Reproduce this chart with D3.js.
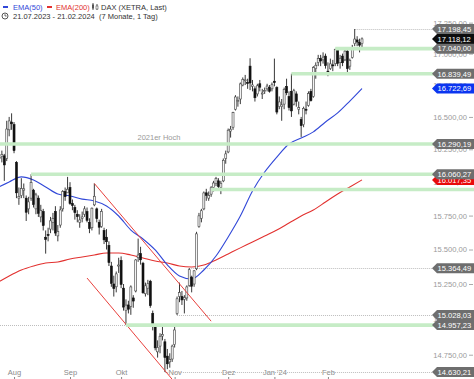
<!DOCTYPE html>
<html>
<head>
<meta charset="utf-8">
<script src="https://cdn.jsdelivr.net/npm/d3@7"></script>
<style>
  body { margin: 0; background: #fff; }
  svg { display: block; font-family: "Liberation Sans", Arial, sans-serif; }
</style>
</head>
<body>
<div id="chart"></div>
<script>
// daily candles, 21.07.2023 - 21.02.2024 (index = trading day)
var open = [16150,16180,16195,16200,16180,16400,16460,16440,16150,15880,
  15900,15940,15880,15800,15880,15940,15800,15880,15740,15780,
  15590,15610,15650,15700,15780,15600,15680,15800,15930,15920,
  15960,15840,15810,15760,15700,15730,15760,15780,15700,15660,
  15830,15800,15700,15670,15640,15590,15530,15380,15250,15230,
  15380,15420,15220,15060,15100,15090,15150,15200,15440,15470,
  15400,15180,15220,15270,15040,14950,14770,14810,14880,14840,
  14740,14700,14720,14820,15040,15160,15160,15140,15150,15240,
  15300,15250,15360,15670,15730,15800,15920,15880,15910,15960,
  15990,16010,15960,16010,16180,16230,16390,16420,16560,16620,
  16640,16750,16790,16770,16900,16740,16720,16680,16760,16680,
  16700,16720,16730,16720,16780,16730,16580,16580,16600,16740,
  16660,16700,16600,16680,16560,16480,16440,16560,16590,16700,
  16660,16880,16930,16960,16950,16980,16860,16880,16910,16920,
  17030,16930,16980,16950,17020,16900,16970,17080,17110,17090,17080];
var high = [16220,16230,16240,16215,16470,16500,16528,16460,16160,15960,
  16030,15990,15900,15890,16060,15950,15920,15900,15830,15800,
  15640,15660,15740,15770,15820,15680,15820,15940,15960,16040,
  16000,15870,15830,15790,15760,15780,15820,15810,15730,15810,
  15990,15810,15720,15800,15660,15650,15560,15410,15310,15340,
  15440,15450,15250,15140,15130,15240,15170,15430,15580,15520,
  15410,15260,15280,15280,15060,14960,14850,14900,14950,14860,
  14790,14760,14820,14960,15160,15260,15200,15170,15240,15364.49,
  15310,15350,15630,15770,15800,15930,15950,15930,15970,16010,
  16040,16030,16010,16180,16240,16410,16430,16540,16670,16660,
  16770,16810,16830,16800,16963,16790,16740,16760,16790,16720,
  16730,16760,16750,16770,16960,16740,16660,16640,16730,16800,
  16700,16839.49,16720,16700,16620,16500,16580,16620,16700,16720,
  16900,16930,16990,16990,17010,17000,16930,16960,16950,17040,
  17035,16990,17000,17030,17030,16960,17070,17198.45,17140,17120,17130];
var low = [16120,16140,16150,16010,16160,16350,16400,16220,15880,15830,
  15880,15880,15710,15760,15860,15810,15760,15740,15700,15640,
  15470,15560,15620,15640,15600,15560,15660,15780,15860,15920,
  15830,15790,15720,15700,15660,15700,15740,15700,15620,15640,
  15820,15700,15610,15660,15540,15500,15380,15230,15160,15190,
  15330,15220,15060,14957.23,15040,15030,15080,15190,15410,15390,
  15180,15160,15170,15080,14920,14780,14730,14760,14850,14630.21,
  14650,14660,14700,14800,15028.03,15120,15100,15040,15130,15230,
  15190,15230,15350,15660,15700,15790,15860,15860,15890,15930,
  15970,15940,15910,16000,16140,16220,16340,16400,16550,16580,
  16600,16740,16750,16720,16710,16700,16620,16660,16700,16640,
  16680,16700,16690,16700,16740,16520,16560,16470,16560,16670,
  16550,16500,16590,16580,16520,16345,16420,16520,16580,16620,
  16650,16800,16900,16900,16920,16880,16820,16870,16860,16900,
  16900,16880,16900,16940,16840,16870,16960,17060,17060,17010,17040];
var close = [16177,16190,16211,16131,16406,16469,16447,16240,15920,15893,
  15952,15950,15775,15852,15997,15832,15904,15767,15789,15676,
  15574,15603,15711,15729,15621,15632,15792,15930,15891,15947,
  15840,15825,15772,15742,15718,15740,15800,15715,15654,15805,
  15894,15727,15664,15781,15571,15557,15405,15255,15217,15323,
  15387,15247,15085,15099,15070,15229,15128,15424,15460,15425,
  15187,15237,15252,15095,14946,14798,14800,14879,14892,14731,
  14687,14716,14810,14923,15144,15189,15136,15153,15229,15353,
  15234,15345,15615,15748,15786,15919,15901,15900,15958,15994,
  16029,15967,15992,16166,16215,16397,16405,16533,16656,16629,
  16759,16794,16791,16766,16766,16751,16650,16744,16733,16687,
  16706,16742,16701,16752,16769,16538,16617,16594,16716,16689,
  16573,16547,16705,16622,16572,16432,16567,16555,16683,16627,
  16889,16907,16961,16941,16972,16904,16859,16918,16904,17033,
  16922,16963,16927,17020,16880,16946,17047,17117,17093,17068,17118.12];

// moving averages read every 5 trading days
var emaIdx = [0,5,10,15,20,25,30,35,40,45,50,55,60,65,70,75,80,85,90,95,100,105,110,115,120,125,130,135,140,145,150];
var ema50 = [15956,16002,16040,16017,15964,15911,15896,15873,15859,15822,15747,15643,15577,15497,15388,15308,
  15286,15351,15453,15592,15747,15934,16077,16191,16291,16337,16384,16461,16531,16624,16722.69];
var ema200 = [15257,15308,15351,15380,15402,15409,15431,15446,15460,15475,15475,15460,15438,15416,15402,15380,
  15373,15387,15424,15468,15512,15555,15599,15643,15695,15747,15792,15851,15911,15964,16017.35];

// marked levels
var greenLevels = [17040.00, 16839.49, 16290.19, 16060.27, 15945, 14957.23];
var greenFrom = [139, 121, null, 14, 88, 53];
var dotLevels = [17198.45, 15364.49, 15028.03, 14630.21, 14957.23];
var dotFrom = [147, 79, 74, 69, null];
var tagLevels = [17198.45, 17118.12, 17040.00, 16839.49, 16722.69, 16290.19, 16060.27, 15364.49, 15028.03, 14957.23, 14630.21];
var tagKind = ["grey","last","grey","grey","ema50","grey","grey","grey","grey","grey","grey"];

// trend channel
var trendUpper = [{i: 40, p: 15990}, {i: 88, p: 14985}];
var trendLower = [{i: 37, p: 15293}, {i: 73, p: 14560}];

var yTicks = [14750,15000,15250,15500,15750,16000,16250,16500,16750,17000,17250];
var monthIdx = [7,30,51,73,95,114,136];
var monthLabels = ["Aug","Sep","Okt","Nov","Dez","Jan '24","Feb"];

var width = 474, height = 379, plotRight = 432;

var svg = d3.select("#chart").append("svg")
    .attr("width", width)
    .attr("height", height);

svg.append("clipPath").attr("id", "plot")
  .append("rect").attr("x", 0).attr("y", 0).attr("width", plotRight).attr("height", height);

var x = d3.scaleLinear().domain([0, 150]).range([-3, 362]);
var y = d3.scaleLog().domain([14630.21, 17198.45]).range([372, 29]);

var de = d3.formatLocale({decimal: ",", thousands: ".", grouping: [3], currency: ["", "€"]});
var fmt = de.format(",.2f");

// right axis (labels sit left of the tick)
var yAxis = svg.append("g")
    .attr("transform", "translate(473,0)")
    .call(d3.axisLeft(y).tickValues(yTicks).tickFormat(fmt).tickSize(4).tickPadding(2));
yAxis.select(".domain").remove();
yAxis.selectAll("line").attr("stroke", "#aaa");
yAxis.selectAll("text").attr("fill", "#9a9a9a").style("font-size", "7.6px")
    .style("font-family", "'Liberation Sans', Arial, sans-serif");

// bottom axis
var xAxis = svg.append("g")
    .attr("transform", "translate(0," + height + ")")
    .call(d3.axisTop(x).tickValues(monthIdx)
      .tickFormat(function(d, i) { return monthLabels[i]; })
      .tickSize(2).tickPadding(2));
xAxis.select(".domain").remove();
xAxis.selectAll("line").attr("stroke", "#888");
xAxis.selectAll("text").attr("fill", "#8a8a8a").style("font-size", "7.5px")
    .style("font-family", "'Liberation Sans', Arial, sans-serif");

var plot = svg.append("g").attr("clip-path", "url(#plot)");

// dotted level lines
plot.selectAll("line.dot")
    .data(dotLevels)
  .enter().append("line")
    .attr("class", "dot")
    .attr("x1", function(d, i) { return dotFrom[i] === null ? 0 : x(dotFrom[i]); })
    .attr("x2", plotRight)
    .attr("y1", function(d) { return Math.round(y(d)) + 0.5; })
    .attr("y2", function(d) { return Math.round(y(d)) + 0.5; })
    .attr("stroke", "#bdbdbd")
    .attr("stroke-width", 1)
    .attr("stroke-dasharray", "1,1");

// green zones
svg.selectAll("line.green")
    .data(greenLevels)
  .enter().append("line")
    .attr("class", "green")
    .attr("x1", function(d, i) { return greenFrom[i] === null ? 0 : x(greenFrom[i]); })
    .attr("x2", width)
    .attr("y1", function(d) { return y(d); })
    .attr("y2", function(d) { return y(d); })
    .attr("stroke", "#c6ecc6")
    .attr("stroke-width", 3.6);

svg.append("text")
    .attr("x", 159)
    .attr("y", y(16290.19) - 4)
    .attr("text-anchor", "middle")
    .attr("fill", "#999")
    .style("font-size", "7.5px")
    .text("2021er Hoch");

// moving averages
var emaLine = d3.line()
    .curve(d3.curveMonotoneX)
    .x(function(d, i) { return x(emaIdx[i]); })
    .y(function(d) { return y(d); });

plot.append("path").datum(ema200)
    .attr("fill", "none").attr("stroke", "#e2312f").attr("stroke-width", 1.1)
    .attr("d", emaLine);
plot.append("path").datum(ema50)
    .attr("fill", "none").attr("stroke", "#3148d8").attr("stroke-width", 1.1)
    .attr("d", emaLine);

// candles
var candles = d3.range(close.length);
plot.selectAll("line.wick")
    .data(candles)
  .enter().append("line")
    .attr("class", "wick")
    .attr("x1", function(i) { return x(i); })
    .attr("x2", function(i) { return x(i); })
    .attr("y1", function(i) { return y(high[i]); })
    .attr("y2", function(i) { return y(low[i]); })
    .attr("stroke", "#222")
    .attr("stroke-width", 0.9);

plot.selectAll("rect.body")
    .data(candles)
  .enter().append("rect")
    .attr("class", "body")
    .attr("x", function(i) { return x(i) - 1; })
    .attr("width", 2)
    .attr("y", function(i) { return y(Math.max(open[i], close[i])); })
    .attr("height", function(i) { return Math.max(1, Math.abs(y(open[i]) - y(close[i]))); })
    .attr("fill", function(i) { return close[i] >= open[i] ? "#f4f4f4" : "#111"; })
    .attr("stroke", function(i) { return close[i] >= open[i] ? "#444" : "#111"; })
    .attr("stroke-width", 0.6);

// trend channel
var trendLine = d3.line()
    .x(function(d) { return x(d.i); })
    .y(function(d) { return y(d.p); });
[trendUpper, trendLower].forEach(function(t) {
  plot.append("path").datum(t)
      .attr("fill", "none").attr("stroke", "#e8403c").attr("stroke-width", 1)
      .attr("d", trendLine);
});

// price tags on the right
function tag(v, fill) {
  var yc = y(v);
  var g = svg.append("g");
  g.append("path")
      .attr("d", "M" + plotRight + "," + yc + "L" + (plotRight + 5) + "," + (yc - 5) +
                 "L" + width + "," + (yc - 5) + "L" + width + "," + (yc + 5) +
                 "L" + (plotRight + 5) + "," + (yc + 5) + "Z")
      .attr("fill", fill);
  g.append("text")
      .attr("x", plotRight + 5.5)
      .attr("y", yc + 2.8)
      .attr("fill", "#fff")
      .style("font-size", "7.6px")
      .text(fmt(v));
}
var tagColors = {grey: "#6e6e6e", last: "#0d0d0d", ema50: "#0b35f0"};
tag(ema200[ema200.length - 1], "#e80b0b");
tagLevels.forEach(function(v, i) { tag(v, tagColors[tagKind[i]]); });

// legend
var lg = svg.append("g").style("font-size", "7.5px");
lg.append("rect").attr("x", 3).attr("y", 6).attr("width", 5).attr("height", 2).attr("fill", "#3148d8");
lg.append("text").attr("x", 13).attr("y", 9.5).attr("fill", "#3148d8").text("EMA(50)");
lg.append("rect").attr("x", 47).attr("y", 6).attr("width", 5).attr("height", 2).attr("fill", "#e2312f");
lg.append("text").attr("x", 56).attr("y", 9.5).attr("fill", "#e2312f").text("EMA(200)");
// small candle icon
lg.append("line").attr("x1", 93).attr("x2", 93).attr("y1", 3).attr("y2", 10).attr("stroke", "#555");
lg.append("rect").attr("x", 92).attr("y", 4.5).attr("width", 2).attr("height", 4).attr("fill", "#555");
lg.append("line").attr("x1", 97).attr("x2", 97).attr("y1", 4).attr("y2", 10).attr("stroke", "#555");
lg.append("rect").attr("x", 96).attr("y", 6).attr("width", 2).attr("height", 3).attr("fill", "#fff").attr("stroke", "#555").attr("stroke-width", 0.6);
lg.append("text").attr("x", 101).attr("y", 9.5).attr("fill", "#333").text("DAX (XETRA, Last)");
// clock icon
lg.append("circle").attr("cx", 5).attr("cy", 16).attr("r", 3).attr("fill", "none").attr("stroke", "#444").attr("stroke-width", 0.9);
lg.append("path").attr("d", "M5,14.2V16H6.6").attr("fill", "none").attr("stroke", "#444").attr("stroke-width", 0.8);
lg.append("text").attr("x", 13).attr("y", 19).attr("fill", "#333").text("21.07.2023 - 21.02.2024");
lg.append("text").attr("x", 99).attr("y", 19).attr("fill", "#333").text("(7 Monate, 1 Tag)");
</script>
</body>
</html>
